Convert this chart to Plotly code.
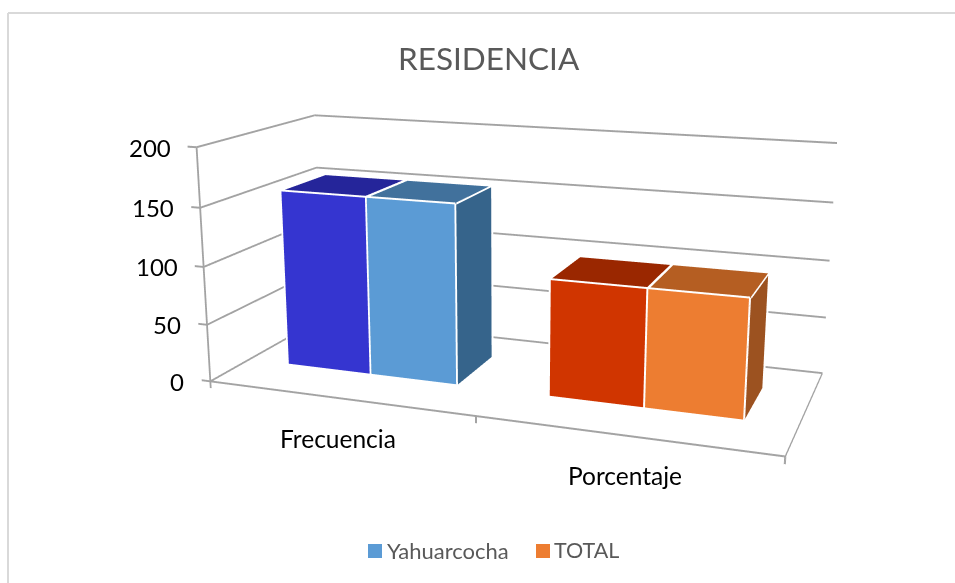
import plotly.graph_objects as go

categories = ["Frecuencia", "Porcentaje"]
series_names = ["Yahuarcocha", "TOTAL"]
yahuarcocha = [155, 99]
total = [155, 99]
tick_values = [0, 50, 100, 150, 200]

front = {"Yahuarcocha": ["#3535D0", "#D03500"], "TOTAL": ["#5B9BD5", "#ED7D31"]}
top = {"Yahuarcocha": ["#25259A", "#9A2700"], "TOTAL": ["#41719C", "#B55E22"]}
side = {"Yahuarcocha": ["#25259A", "#9A2700"], "TOTAL": ["#36648B", "#9C5220"]}

BAR_W = 0.332
GAP = 0.163
Y0, Y1 = 0.318, 0.717
GRID = "#A3A3A3"

# The scene is larger than the window so that its lens matches the reference.
FIG_W, FIG_H, FIG_TOP = 1008, 1123, 277
def paper_x(px):
    return px / FIG_W
def paper_y(py):
    return 1 - (py + FIG_TOP) / FIG_H

def box(x0, x1, h, cf, ct, cs, name):
    xs = [x0, x1, x1, x0, x0, x1, x1, x0]
    ys = [Y0, Y0, Y1, Y1, Y0, Y0, Y1, Y1]
    zs = [0, 0, 0, 0, h, h, h, h]
    i = [0, 0, 4, 4, 1, 1, 3, 3, 0, 0, 2, 2]
    j = [1, 5, 5, 6, 2, 6, 0, 4, 1, 2, 3, 7]
    k = [5, 4, 6, 7, 6, 5, 4, 7, 2, 3, 7, 6]
    fc = [cf, cf, ct, ct, cs, cs, cs, cs, cs, cs, cs, cs]
    return go.Mesh3d(x=xs, y=ys, z=zs, i=i, j=j, k=k, facecolor=fc, flatshading=True,
                     lighting=dict(ambient=1, diffuse=0, specular=0, roughness=1, fresnel=0),
                     hoverinfo="skip", showlegend=False, name=name)

def polyline(segments, color, dx=0.0016, dz=0.4):
    ex, ey, ez = [], [], []
    for a, b in segments:
        vertical = a[0] == b[0] and a[1] == b[1]
        for s in (-1, 1):
            ox, oz = (s * dx, 0) if vertical else (0, s * dz)
            ex += [a[0] + ox, b[0] + ox, None]
            ey += [a[1], b[1], None]
            ez += [a[2] + oz, b[2] + oz, None]
    return go.Scatter3d(x=ex, y=ey, z=ez, mode="lines", line=dict(color=color, width=2),
                        hoverinfo="skip", showlegend=False)

def edges(x0, x1, h):
    ef = Y0 - 0.006
    xr = x1 + 0.004
    zt = h + 0.7
    return polyline([((x0, ef, 0), (x1, ef, 0)), ((x0, ef, 0), (x0, ef, zt)), ((x1, ef, 0), (x1, ef, zt)),
                     ((x0, ef, zt), (x1, ef, zt)), ((x0, Y1, zt), (x1, Y1, zt)), ((x0, ef, zt), (x0, Y1, zt)),
                     ((xr, ef, zt), (xr, Y1, zt)), ((xr, ef, 0), (xr, Y1, 0)), ((xr, Y1, 0), (xr, Y1, zt))], "white")

fig = go.Figure()
seg = []
for v in tick_values:
    seg += [((0, 0, v), (0, 1, v)), ((0, 1, v), (2, 1, v))]
seg += [((0, 0, 0), (2, 0, 0)), ((2, 0, 0), (2, 1, 0)), ((0, 0, 0), (0, 0, 200))]
seg += [((0, 0, v), (-0.035, 0, v)) for v in tick_values]
seg += [((x, 0, 0), (x, 0, -6)) for x in [0, 1, 2]]
fig.add_trace(polyline(seg, GRID))

for c in range(2):
    for s, (name, vals) in enumerate(zip(series_names, [yahuarcocha, total])):
        x0 = c + GAP + s * BAR_W
        x1 = x0 + BAR_W
        fig.add_trace(box(x0, x1, vals[c], front[name][c], top[name][c], side[name][c], name))
        fig.add_trace(edges(x0, x1, vals[c]))

hidden = dict(visible=False, showgrid=False, zeroline=False, showticklabels=False, showspikes=False, showbackground=False)
zlab = [dict(x=0, y=0, z=v, text=str(v), showarrow=False, xanchor="right", yanchor="middle", xshift=-24,
             font=dict(size=24, color="black")) for v in tick_values]
xlab = [dict(x=c + 0.5, y=0, z=0, text=t, showarrow=False, xanchor="center", yanchor="middle", yshift=-40,
             font=dict(size=24.5, color="black")) for c, t in enumerate(categories)]

fig.update_layout(
    width=FIG_W, height=FIG_H, paper_bgcolor="white",
    margin=dict(l=0, r=0, t=0, b=0),
    font=dict(family="Lato, Open Sans, sans-serif", color="black"),
    showlegend=False,
    scene=dict(
        domain=dict(x=[0, 1], y=[0, 1]),
        aspectmode="manual", aspectratio=dict(x=2.419 * 1.05, y=1.01, z=1.1),
        camera=dict(eye=dict(x=1.847, y=-5.183, z=1.374), center=dict(x=-0.069, y=0, z=-0.096), up=dict(x=0.001, y=0, z=1)),
        xaxis=dict(range=[-0.05, 2.05], **hidden),
        yaxis=dict(range=[0, 1], **hidden),
        zaxis=dict(range=[-10, 210], **hidden),
        annotations=zlab + xlab,
    ),
    annotations=[
        dict(text="RESIDENCIA", x=paper_x(488.5), y=paper_y(58), xref="paper", yref="paper", xanchor="center",
             yanchor="middle", showarrow=False, font=dict(size=31.5, color="#595959")),
        dict(text="Yahuarcocha", x=paper_x(385), y=paper_y(550), xref="paper", yref="paper", xanchor="left",
             yanchor="middle", showarrow=False, font=dict(size=22, color="#595959")),
        dict(text="TOTAL", x=paper_x(552), y=paper_y(550), xref="paper", yref="paper", xanchor="left",
             yanchor="middle", showarrow=False, font=dict(size=21.5, color="#595959")),
    ],
    shapes=[
        dict(type="line", xref="paper", yref="paper", x0=paper_x(8), x1=paper_x(1008), y0=paper_y(13), y1=paper_y(13),
             line=dict(color="#D9D9D9", width=2)),
        dict(type="line", xref="paper", yref="paper", x0=paper_x(8), x1=paper_x(8), y0=paper_y(13), y1=paper_y(600),
             line=dict(color="#D9D9D9", width=2)),
        dict(type="rect", xref="paper", yref="paper", x0=paper_x(368), x1=paper_x(382), y0=paper_y(558), y1=paper_y(544),
             line=dict(width=0), fillcolor="#5B9BD5"),
        dict(type="rect", xref="paper", yref="paper", x0=paper_x(536), x1=paper_x(550), y0=paper_y(558), y1=paper_y(544),
             line=dict(width=0), fillcolor="#ED7D31"),
    ],
)
post = ("document.documentElement.style.overflow='hidden';document.body.style.margin='0';"
        "document.body.style.overflow='hidden';var g=document.querySelector('.plotly-graph-div');"
        f"g.style.position='absolute';g.style.left='0';g.style.top='-{FIG_TOP}px';")
fig.write_html("out.html", post_script=post, config={"displayModeBar": False})
